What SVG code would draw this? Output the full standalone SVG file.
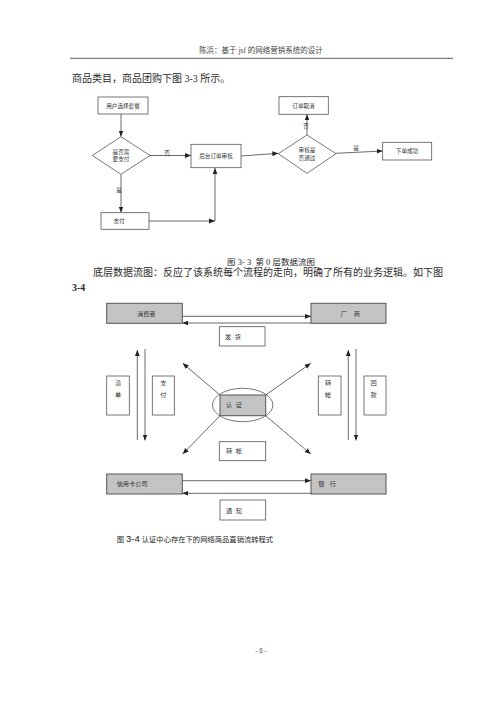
<svg xmlns="http://www.w3.org/2000/svg" width="500" height="707" viewBox="0 0 500 707">
<style>
.body{font-family:"Liberation Serif","Noto Sans CJK SC",serif;fill:#2a2a2a}
.hd{font-family:"Liberation Serif","Noto Sans CJK SC",serif;fill:#444;font-size:7.5px}
.t{font-family:"Liberation Sans","Noto Sans CJK SC",sans-serif;fill:#333;font-size:5.6px}
.t2{font-family:"Liberation Sans","Noto Sans CJK SC",sans-serif;fill:#333;font-size:6.2px;white-space:pre}
.box{fill:#fff;stroke:#555;stroke-width:0.8}
.gbox{fill:#c4c4c4;stroke:#555;stroke-width:1}
.ln{fill:none;stroke:#444;stroke-width:0.8}
</style>
<defs>
<marker id="ah" viewBox="0 0 10 10" refX="10" refY="5" markerWidth="6" markerHeight="6" orient="auto" markerUnits="userSpaceOnUse">
<path d="M0,1 L10,5 L0,9 Z" fill="#222"/>
</marker>
</defs>
<rect x="0" y="0" width="500" height="707" fill="#fff"/>
<!-- header -->
<text class="hd" x="261" y="53" text-anchor="middle">陈浜：基于 jsf 的网络营销系统的设计</text>
<line x1="70" y1="58.3" x2="453" y2="58.3" stroke="#333" stroke-width="0.8"/>
<text class="body" x="72" y="82" font-size="10">商品类目，商品团购下图 3-3 所示。</text>

<!-- Diagram 1 -->
<g id="connectors1">
<line class="ln" x1="121" y1="114" x2="121" y2="136.5" marker-end="url(#ah)"/>
<line class="ln" x1="150" y1="155.5" x2="191" y2="155.5" marker-end="url(#ah)"/>
<line class="ln" x1="121" y1="174.5" x2="121" y2="212.5" marker-end="url(#ah)"/>
<line class="ln" x1="149" y1="221" x2="215" y2="221" marker-end="url(#ah)"/>
<line class="ln" x1="215" y1="221" x2="215" y2="168" marker-end="url(#ah)"/>
<line class="ln" x1="241" y1="156" x2="278.3" y2="153.3" marker-end="url(#ah)"/>
<line class="ln" x1="307" y1="135" x2="307" y2="114.3" marker-end="url(#ah)"/>
<line class="ln" x1="336" y1="153.3" x2="382.7" y2="151" marker-end="url(#ah)"/>
<text class="t" x="167" y="155" text-anchor="middle">否</text>
<text class="t" x="119" y="192" text-anchor="middle">是</text>
<text class="t" x="306" y="128" text-anchor="middle">否</text>
<text class="t" x="356" y="150" text-anchor="middle">是</text>
</g>
<g id="n_user"><rect class="box" x="98" y="97" width="50" height="17"/><text class="t" x="123" y="107.5" text-anchor="middle">用户选择套餐</text></g>
<g id="n_needpay"><polygon class="box" points="121,136.7 150,155.5 121,174.3 92.3,155.5"/><text class="t" x="121" y="153.5" text-anchor="middle">是否需</text><text class="t" x="121" y="161" text-anchor="middle">要支付</text></g>
<g id="n_review"><rect class="box" x="191" y="144.3" width="50" height="23.4"/><text class="t" x="216" y="158" text-anchor="middle">后台订单审核</text></g>
<g id="n_pay"><rect class="box" x="101" y="212.7" width="48" height="16.6"/><text class="t" x="119" y="223" text-anchor="middle">支付</text></g>
<g id="n_pass"><polygon class="box" points="307,135 336,153.7 307,173.3 278.3,153.7"/><text class="t" x="307" y="152" text-anchor="middle">审核是</text><text class="t" x="307" y="159.5" text-anchor="middle">否通过</text></g>
<g id="n_cancel"><rect class="box" x="279" y="96.7" width="49.3" height="17.6"/><text class="t" x="303.5" y="107.5" text-anchor="middle">订单取消</text></g>
<g id="n_success"><rect class="box" x="382.7" y="142.3" width="49" height="17.7"/><text class="t" x="407" y="153" text-anchor="middle">下单成功</text></g>

<text class="body" x="271" y="265" font-size="8.5" text-anchor="middle" xml:space="preserve">图 3- 3  第 0 层数据流图</text>
<text class="body" x="93" y="276" font-size="10">底层数据流图：反应了该系统每个流程的走向，明确了所有的业务逻辑。如下图</text>
<text class="body" x="72" y="291" font-size="10" font-weight="bold">3-4</text>

<!-- Diagram 2 -->
<g id="connectors2">
<line class="ln" x1="182.3" y1="316.3" x2="311" y2="316.3" marker-end="url(#ah)"/>
<line class="ln" x1="311" y1="323" x2="182.3" y2="323" marker-end="url(#ah)"/>
<line class="ln" x1="137.3" y1="440" x2="137.3" y2="350" marker-end="url(#ah)"/>
<line class="ln" x1="145" y1="349" x2="145" y2="440.5" marker-end="url(#ah)"/>
<line class="ln" x1="348.3" y1="440" x2="348.3" y2="350" marker-end="url(#ah)"/>
<line class="ln" x1="356" y1="349" x2="356" y2="440.5" marker-end="url(#ah)"/>
<line class="ln" x1="220" y1="395" x2="182.7" y2="363.3" marker-end="url(#ah)"/>
<line class="ln" x1="265.7" y1="395" x2="310.7" y2="363.3" marker-end="url(#ah)"/>
<line class="ln" x1="220" y1="415.7" x2="182.7" y2="454" marker-end="url(#ah)"/>
<line class="ln" x1="265.7" y1="415.7" x2="310.7" y2="454" marker-end="url(#ah)"/>
<line class="ln" x1="182.3" y1="480.7" x2="311" y2="480.7" marker-end="url(#ah)"/>
<line class="ln" x1="311" y1="493.3" x2="182.3" y2="493.3" marker-end="url(#ah)"/>
</g>
<g id="n_consumer"><rect class="gbox" x="106.7" y="303.3" width="75.6" height="20"/><text class="t2" x="137" y="315.5">消费者</text></g>
<g id="n_maker"><rect class="gbox" x="311" y="303.3" width="75" height="20"/><text class="t2" x="340.7" y="315.5" xml:space="preserve">厂    商</text></g>
<g id="n_ship"><rect class="box" x="219.3" y="326.7" width="45.7" height="19.3"/><text class="t2" x="225" y="338.5" xml:space="preserve">发  货</text></g>
<g id="n_list"><rect class="box" x="106.7" y="376" width="22.6" height="39"/><text class="t2" x="118" y="385" text-anchor="middle">清</text><text class="t2" x="118" y="397" text-anchor="middle">单</text></g>
<g id="n_pay2"><rect class="box" x="152.3" y="376" width="22" height="39"/><text class="t2" x="163.3" y="385" text-anchor="middle">支</text><text class="t2" x="163.3" y="397" text-anchor="middle">付</text></g>
<g id="n_transfer1"><rect class="box" x="318.3" y="376" width="22.7" height="39"/><text class="t2" x="328" y="385" text-anchor="middle">转</text><text class="t2" x="328" y="397" text-anchor="middle">帐</text></g>
<g id="n_refund"><rect class="box" x="364" y="376" width="22" height="39"/><text class="t2" x="373.5" y="385" text-anchor="middle">回</text><text class="t2" x="373.5" y="397" text-anchor="middle">款</text></g>
<g id="n_auth"><ellipse cx="242.7" cy="405" rx="30.2" ry="16.7" fill="none" stroke="#555" stroke-width="0.8"/><rect class="gbox" x="220" y="395" width="45.7" height="20.7"/><text class="t2" x="226" y="407" xml:space="preserve">认  证</text></g>
<g id="n_transfer2"><rect class="box" x="219.3" y="441.7" width="46.4" height="19"/><text class="t2" x="226" y="453" xml:space="preserve">转  帐</text></g>
<g id="n_card"><rect class="gbox" x="106.7" y="474" width="75.6" height="20"/><text class="t2" x="116.7" y="486">信用卡公司</text></g>
<g id="n_bank"><rect class="gbox" x="311" y="474" width="75" height="20"/><text class="t2" x="318.3" y="486" xml:space="preserve">银   行</text></g>
<g id="n_notify"><rect class="box" x="220" y="500" width="45.7" height="20"/><text class="t2" x="226" y="512.5" xml:space="preserve">通  知</text></g>

<text x="116.7" y="542" font-family="Liberation Sans,Noto Sans CJK SC,sans-serif" font-size="7.3" fill="#222">图 <tspan font-size="9.5">3-4</tspan> 认证中心存在下的网络商品直销流转程式</text>

<text x="261" y="653" font-family="Liberation Sans,sans-serif" font-size="6.5" fill="#555" text-anchor="middle">- 6 -</text>
</svg>
